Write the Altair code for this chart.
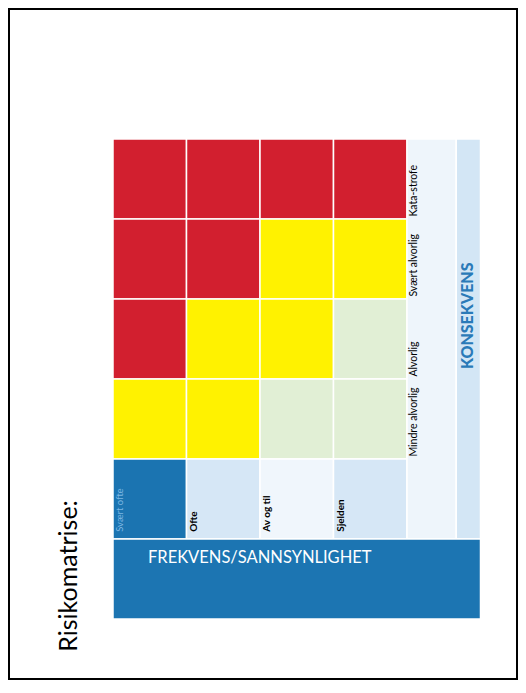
import altair as alt
import pandas as pd

# ---- data ----
consequences = ["Kata-strofe", "Svært alvorlig", "Alvorlig", "Mindre alvorlig"]
frequencies = ["Svært ofte", "Ofte", "Av og til", "Sjelden"]
risk_grid = [
    ["Høy", "Høy", "Høy", "Høy"],
    ["Høy", "Høy", "Middels", "Middels"],
    ["Høy", "Middels", "Middels", "Lav"],
    ["Middels", "Middels", "Lav", "Lav"],
]
risk_levels = ["Høy", "Middels", "Lav"]
risk_colors = ["#d21f2f", "#fff200", "#e1efd5"]
freq_shades = ["#1b74b1", "#d6e7f6", "#f0f6fc", "#d6e7f6"]
title_text = "Risikomatrise:"
x_title = "FREKVENS/SANNSYNLIGHET"
y_title = "KONSEKVENS"

# ---- layout (grid units) ----
W, H = 510, 672
UX, UY = 73.5, 80.0
X0, Y0 = 105.0, 131.0
xs = alt.Scale(domain=[-X0 / UX, (W - X0) / UX], nice=False, zero=False)
ys = alt.Scale(domain=[-Y0 / UY, (H - Y0) / UY], nice=False, zero=False, reverse=True)
FONT = "Lato"

color_of = dict(zip(risk_levels, risk_colors))
cells = []
for i in range(len(consequences)):
    for j in range(len(frequencies)):
        cells.append(dict(c=j, c2=j + 1, r=i, r2=i + 1, fill=color_of[risk_grid[i][j]]))
for j, shade in enumerate(freq_shades):
    cells.append(dict(c=j, c2=j + 1, r=4, r2=5, fill=shade))
n = len(frequencies)
cells.append(dict(c=n, c2=n + 0.67, r=0, r2=5, fill="#eef5fb"))
cells.append(dict(c=n + 0.67, c2=n + 1.0, r=0, r2=5, fill="#d3e6f5"))
cells.append(dict(c=0, c2=n + 1.0, r=5, r2=6, fill="#1c75b2"))
cells_df = pd.DataFrame(cells)

X = lambda f: alt.X(f, type="quantitative", scale=xs, axis=None)
Y = lambda f: alt.Y(f, type="quantitative", scale=ys, axis=None)

rects = alt.Chart(cells_df).mark_rect(stroke="white", strokeWidth=1.5).encode(
    x=X("c"), x2="c2", y=Y("r"), y2="r2", fill=alt.Fill("fill:N", scale=None)
)

cons_df = pd.DataFrame({
    "label": consequences,
    "c": [n + 0.09] * len(consequences),
    "r": [i + 1 - 0.03 for i in range(len(consequences))],
})
cons_text = alt.Chart(cons_df).mark_text(
    angle=270, align="left", baseline="middle", font=FONT, fontSize=10.5, color="black"
).encode(x=X("c"), y=Y("r"), text="label:N")

freq_df = pd.DataFrame({
    "label": frequencies,
    "c": [j + 0.1 for j in range(n)],
    "r": [4.91] * n,
})
freq_first = alt.Chart(freq_df.iloc[:1]).mark_text(
    angle=270, align="left", baseline="middle", font=FONT, fontSize=9.5, color="#7db7e3"
).encode(x=X("c"), y=Y("r"), text="label:N")
freq_rest = alt.Chart(freq_df.iloc[1:]).mark_text(
    angle=270, align="left", baseline="middle", font=FONT, fontSize=10,
    fontWeight="bold", color="black"
).encode(x=X("c"), y=Y("r"), text="label:N")

titles_df = pd.DataFrame({"label": [y_title], "c": [n + 0.835], "r": [2.21]})
ytitle = alt.Chart(titles_df).mark_text(
    angle=270, align="center", baseline="middle", font=FONT, fontSize=16,
    fontWeight=900, color="#2a7ab8"
).encode(x=X("c"), y=Y("r"), text="label:N")

xt_df = pd.DataFrame({"label": [x_title], "c": [0.476], "r": [5.24]})
xtitle = alt.Chart(xt_df).mark_text(
    align="left", baseline="middle", font=FONT, fontSize=16.5, color="white"
).encode(x=X("c"), y=Y("r"), text="label:N")

tt_df = pd.DataFrame({"label": [title_text], "c": [-0.6], "r": [6.41]})
ttitle = alt.Chart(tt_df).mark_text(
    angle=270, align="left", baseline="middle", font=FONT, fontSize=25, color="black"
).encode(x=X("c"), y=Y("r"), text="label:N")

chart = alt.layer(rects, cons_text, freq_first, freq_rest, ytitle, xtitle, ttitle).properties(
    width=W, height=H, autosize=alt.AutoSizeParams(type="none"), padding=0,
    background="white",
).configure_view(stroke="black", strokeWidth=4)

chart.save("out.html", embed_options={"renderer": "svg", "actions": False})
